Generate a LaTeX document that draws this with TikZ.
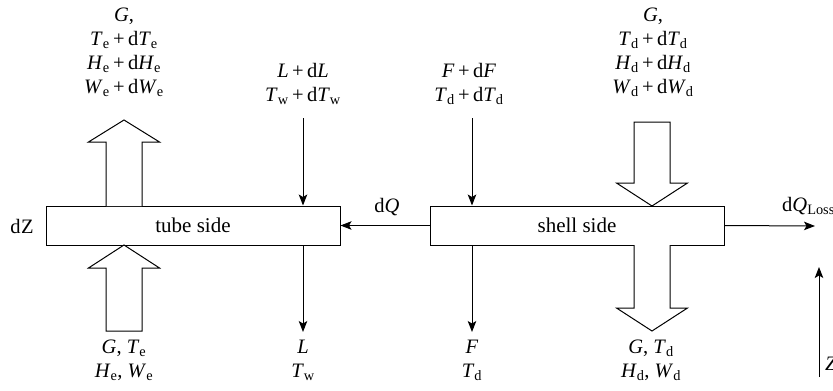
\documentclass[tikz,border=0pt]{standalone}
\usepackage{fontspec}
\setmainfont{Liberation Serif}
\usetikzlibrary{arrows.meta}
\newcommand{\qv}[2]{\textit{#1}\textsubscript{#2}}
\newcommand{\pls}{\,+\,}

\begin{document}
\begin{tikzpicture}[x=1pt, y=-1pt,
        side/.style={draw, line width=1pt, minimum width=294pt, minimum height=39pt, inner sep=0pt, font=\fontsize{21}{24}\selectfont},
        flow/.style={line width=1pt, -{Stealth[length=11pt, width=8.5pt, inset=2.5pt]}},
        fat/.style={draw, line width=1pt, fill=white},
        lbl/.style={align=center, inner sep=0pt, font=\fontsize{20.5}{24}\selectfont}
    ]
        \useasboundingbox (0,0) rectangle (833,391);

        % Control volume
        \node[side] (tube) at (193,225.5) {tube side};
        \node[side] (shell) at (577,225.5) {shell side};
        \node[lbl] (dz) at (22,226) {d\kern0.5pt Z};

        % Gas through the tube side
        \draw[fat] (106,206) -- (106,142) -- (88.5,142) -- (124,120) -- (159.5,142) -- (142,142) -- (142,206);
        \draw[fat] (106,331) -- (106,268) -- (88.5,268) -- (124,245) -- (159.5,268) -- (142,268) -- (142,331) -- cycle;
        \node[lbl] (gtop) at (124,52) {\textit{G},\\ \qv{T}{e}\pls d\qv{T}{e}\\ \qv{H}{e}\pls d\qv{H}{e}\\ \qv{W}{e}\pls d\qv{W}{e}};
        \node[lbl] (gbot) at (124,360) {\textit{G}, \qv{T}{e}\\ \qv{H}{e}, \qv{W}{e}};

        % Gas through the shell side
        \draw[fat] (634,122) -- (634,183) -- (616.5,183) -- (652,206) -- (687.5,183) -- (670,183) -- (670,122) -- cycle;
        \draw[fat] (634,245) -- (634,308) -- (616.5,308) -- (652,331) -- (687.5,308) -- (670,308) -- (670,245);
        \node[lbl] (dtop) at (653,52) {\textit{G},\\ \qv{T}{d}\pls d\qv{T}{d}\\ \qv{H}{d}\pls d\qv{H}{d}\\ \qv{W}{d}\pls d\qv{W}{d}};
        \node[lbl] (dbot) at (651,360) {\textit{G}, \qv{T}{d}\\ \qv{H}{d}, \qv{W}{d}};

        % Water film
        \coordinate (lin) at (303,118);
        \coordinate (lout) at (303,332);
        \draw[flow] (lin) -- (lin |- tube.north);
        \draw[flow] (lout |- tube.south) -- (lout);
        \node[lbl] (ltop) at (303,84) {\textit{L}\pls d\textit{L}\\ \qv{T}{w}\pls d\qv{T}{w}};
        \node[lbl] (lbot) at (303,360) {\textit{L}\\ \qv{T}{w}};

        % Feed
        \coordinate (fin) at (472,118);
        \coordinate (fout) at (472,332);
        \draw[flow] (fin) -- (fin |- shell.north);
        \draw[flow] (fout |- shell.south) -- (fout);
        \node[lbl] (ftop) at (469,84) {\textit{F}\pls d\textit{F}\\ \qv{T}{d}\pls d\qv{T}{d}};
        \node[lbl] (fbot) at (472,360) {\textit{F}\\ \qv{T}{d}};

        % Heat flows
        \draw[flow] (shell.west) -- (tube.east);
        \node[lbl] (dq) at (387,207) {d\textit{Q}};
        \coordinate (qloss) at (815,226);
        \draw[flow] (shell.east) -- (qloss);
        \node[lbl, anchor=west] (dqloss) at (782,206) {d\qv{Q}{Loss}};

        % Axis
        \coordinate (zb) at (819,377);
        \coordinate (zt) at (819,267);
        \draw[flow] (zb) -- (zt);
        \node[lbl, anchor=west] (zax) at (825,364) {\textit{Z}};
    \end{tikzpicture}
\end{document}
